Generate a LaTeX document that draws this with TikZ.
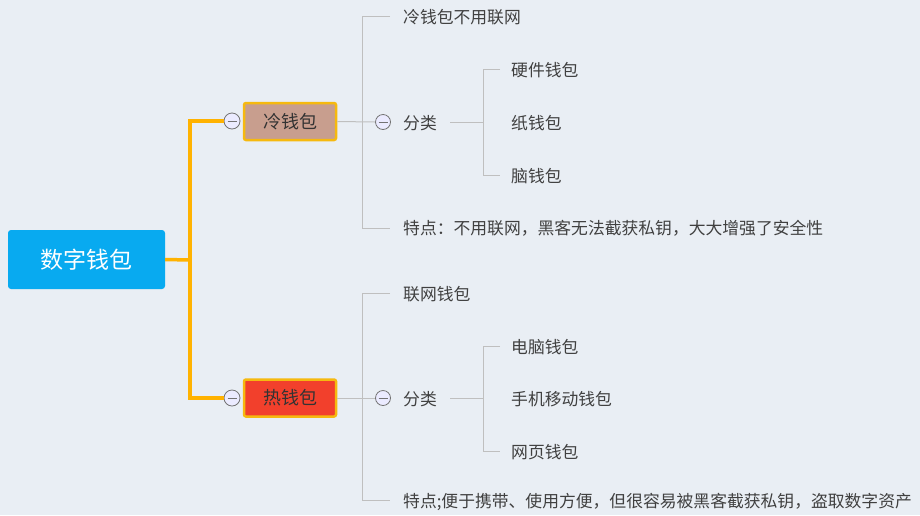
\documentclass[tikz,border=0pt]{standalone}
\usepackage{fontspec}
\newfontfamily\cjk{Noto Sans CJK SC}
\begin{document}
\begin{tikzpicture}[x=1pt,y=-1pt,
  txt/.style={anchor=west,inner sep=0pt,font=\cjk\fontsize{16.8}{16.8}\selectfont,text=black!75},
  gl/.style={draw=black!25,line width=1pt},
  ol/.style={draw=orange!60!yellow,line width=3.5pt},
  mc/.style={circle,draw=black!55,fill=white!92!blue,minimum size=16pt,inner sep=0pt,line width=0.8pt}]
\fill[fill={rgb,255:red,233;green,238;blue,244}] (0,0) rectangle (920,515);
\useasboundingbox (0,0) rectangle (920,515);
\definecolor{cy}{RGB}{8,170,240}
\definecolor{cold}{RGB}{200,158,142}
\definecolor{hot}{RGB}{242,64,44}
\definecolor{ob}{RGB}{246,185,15}
\node[fill=cy,rounded corners=3pt,minimum width=157pt,minimum height=59pt,text=white,font=\cjk\fontsize{23}{23}\selectfont] (root) at (86.5,259.5) {数字钱包};
\coordinate (j) at (190,260);
\node[mc] (c1) at (232,121) {};
\node[mc] (c2) at (232,398) {};
\draw[ol] (root.east) -- (j);
\draw[ol] (j) |- (c1.west);
\draw[ol] (j) |- (c2.west);
\foreach \c in {c1,c2}{\draw[black!55,line width=0.8pt] ([xshift=-4.5pt]\c.center) -- ([xshift=4.5pt]\c.center);}
\node[fill=cold,draw=ob,line width=2.5pt,rounded corners=2pt,minimum width=92pt,minimum height=37pt,font=\cjk\fontsize{18}{18}\selectfont,text=black!80] (cb) at (290,121.5) {冷钱包};
\node[fill=hot,draw=ob,line width=2.5pt,rounded corners=2pt,minimum width=92pt,minimum height=37pt,font=\cjk\fontsize{18}{18}\selectfont,text=black!80] (hb) at (290,398) {热钱包};
% cold branch
\node[mc,minimum size=15pt] (d1) at (383,122) {};
\draw[black!55,line width=0.8pt] ([xshift=-4.5pt]d1.center) -- ([xshift=4.5pt]d1.center);
\draw[gl] (cb.east) -- (d1.west);
\draw[gl] (390,16) -- (362,16) -- (362,228) -- (390,228);
\node[txt] (a1) at (403,17) {冷钱包不用联网};
\node[txt] (a2) at (403,123) {分类};
\node[txt] (a3) at (403,228) {特点：不用联网，黑客无法截获私钥，大大增强了安全性};
\draw[gl] (450,122) -- (483,122);
\draw[gl] (500,69) -- (483,69) -- (483,175) -- (500,175);
\node[txt] (b1) at (511,70) {硬件钱包};
\node[txt] (b2) at (511,123) {纸钱包};
\node[txt] (b3) at (511,176) {脑钱包};
% hot branch
\node[mc,minimum size=15pt] (d2) at (383,398) {};
\draw[black!55,line width=0.8pt] ([xshift=-4.5pt]d2.center) -- ([xshift=4.5pt]d2.center);
\draw[gl] (hb.east) -- (d2.west);
\draw[gl] (390,293) -- (362,293) -- (362,500) -- (390,500);
\node[txt] (e1) at (403,294) {联网钱包};
\node[txt] (e2) at (403,399) {分类};
\node[txt] (e3) at (403,502) {特点;便于携带、使用方便，但很容易被黑客截获私钥，盗取数字资产};
\draw[gl] (450,398) -- (483,398);
\draw[gl] (500,346) -- (483,346) -- (483,451) -- (500,451);
\node[txt] (f1) at (511,347) {电脑钱包};
\node[txt] (f2) at (511,399) {手机移动钱包};
\node[txt] (f3) at (511,452) {网页钱包};
\end{tikzpicture}
\end{document}
